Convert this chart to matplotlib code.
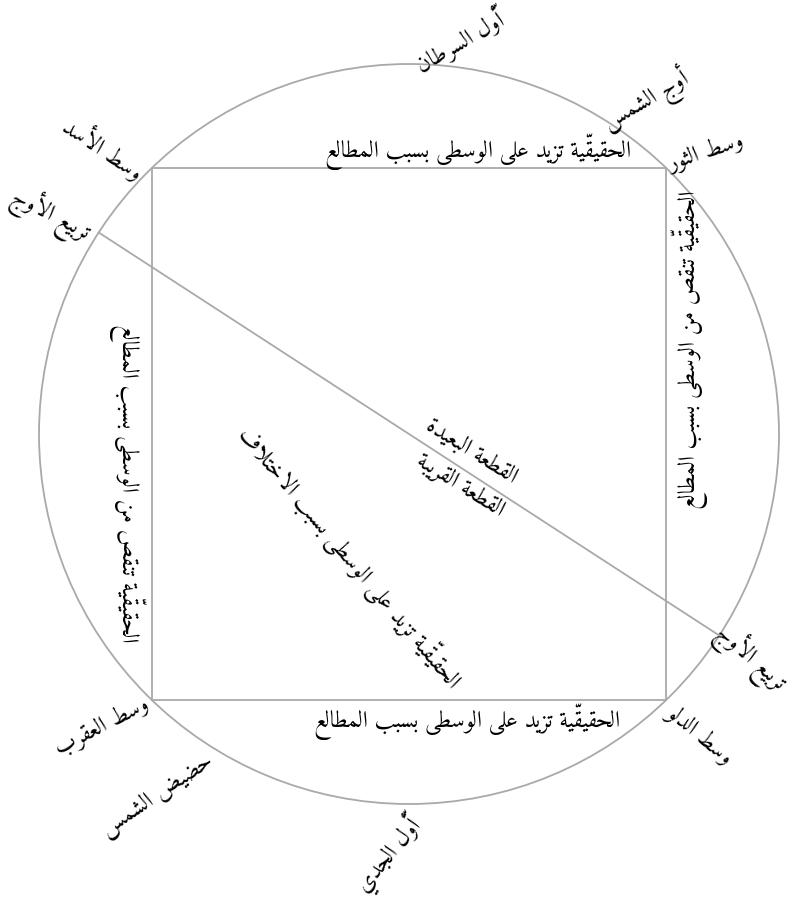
import numpy as np
import matplotlib
matplotlib.use("Agg")
import matplotlib.pyplot as plt
from matplotlib.patches import Circle, Polygon
from matplotlib import font_manager

# ---------------- data ----------------
corner_angles = [46, 134, 226, 314]          # rectangle corners on the circle (deg)
diameter_angles = [147, -33]                 # the diameter line (deg)

label_texts = [
    "أوّل السرطان",
    "أوج الشمس",
    "وسط الثور",
    "وسط الأسد",
    "تربيع الأوج",
    "تربيع الأوج",
    "وسط الدلو",
    "وسط العقرب",
    "حضيض الشمس",
    "أوّل الجدي",
    "الحقيقيّة تزيد على الوسطى بسبب المطالع",
    "الحقيقيّة تزيد على الوسطى بسبب المطالع",
    "الحقيقيّة تنقص من الوسطى بسبب المطالع",
    "الحقيقيّة تنقص من الوسطى بسبب المطالع",
    "القطعة البعيدة",
    "القطعة القريبة",
    "الحقيقيّة تزيد على الوسطى بسبب الاختلاف",
]

# layout (in circle-radius units relative to centre) and rotations
label_x = [0.138, 0.640, 0.805, -0.824, -0.970, 0.922, 0.786, -0.830, -0.678, -0.054,
           0.186, 0.157, 0.759, -0.762, 0.170, 0.138, -0.159]
label_y = [1.062, 0.900, 0.759, 0.773, 0.592, -0.605, -0.814, -0.792, -0.978, -1.138,
           0.762, -0.778, 0.227, -0.132, -0.046, -0.138, -0.332]
label_rot = [30, 30, 18, -34, -27, -41, -40, 27, 34, 50,
             0, 0, 90, 270, -32, -32, -50]

# ---------------- Arabic shaping (presentation forms, visual order) ----------------
_FORMS = {}
for ch, start in [(0x0622, 0xFE81), (0x0623, 0xFE83), (0x0624, 0xFE85), (0x0625, 0xFE87),
                  (0x0627, 0xFE8D), (0x0629, 0xFE93), (0x062F, 0xFEA9), (0x0630, 0xFEAB),
                  (0x0631, 0xFEAD), (0x0632, 0xFEAF), (0x0648, 0xFEED), (0x0649, 0xFEEF)]:
    _FORMS[chr(ch)] = tuple(chr(start + i) for i in range(2))
for ch, start in [(0x0626, 0xFE89), (0x0628, 0xFE8F), (0x062A, 0xFE95), (0x062B, 0xFE99),
                  (0x062C, 0xFE9D), (0x062D, 0xFEA1), (0x062E, 0xFEA5), (0x0633, 0xFEB1),
                  (0x0634, 0xFEB5), (0x0635, 0xFEB9), (0x0636, 0xFEBD), (0x0637, 0xFEC1),
                  (0x0638, 0xFEC5), (0x0639, 0xFEC9), (0x063A, 0xFECD), (0x0641, 0xFED1),
                  (0x0642, 0xFED5), (0x0643, 0xFED9), (0x0644, 0xFEDD), (0x0645, 0xFEE1),
                  (0x0646, 0xFEE5), (0x0647, 0xFEE9), (0x064A, 0xFEF1)]:
    _FORMS[chr(ch)] = tuple(chr(start + i) for i in range(4))
_FORMS[chr(0x0621)] = (chr(0xFE80),)
_LAMALEF = {chr(0x0622): 0xFEF5, chr(0x0623): 0xFEF7, chr(0x0625): 0xFEF9, chr(0x0627): 0xFEFB}


def _is_mark(ch):
    o = ord(ch)
    return 0x064B <= o <= 0x065F or o == 0x0670


def _jtype(b):
    if b.startswith("LA:"):
        return "R"
    f = _FORMS.get(b)
    if f is None or len(f) == 1:
        return "U"
    return "D" if len(f) == 4 else "R"


def shape(text):
    clusters = []
    for ch in text:
        if _is_mark(ch) and clusters:
            clusters[-1][1] += ch
        else:
            clusters.append([ch, ""])
    merged = []
    i = 0
    while i < len(clusters):
        b, m = clusters[i]
        if b == "ل" and i + 1 < len(clusters) and clusters[i + 1][0] in _LAMALEF:
            merged.append(["LA:" + clusters[i + 1][0], m + clusters[i + 1][1]])
            i += 2
        else:
            merged.append([b, m])
            i += 1
    out = []
    n = len(merged)
    for i, (b, m) in enumerate(merged):
        t = _jtype(b)
        pt = _jtype(merged[i - 1][0]) if i > 0 else "U"
        nt = _jtype(merged[i + 1][0]) if i + 1 < n else "U"
        jp = t in "RD" and pt == "D"
        jn = t == "D" and nt in "RD"
        if b.startswith("LA:"):
            g = chr(_LAMALEF[b[3:]] + (1 if jp else 0))
        elif t == "U":
            g = _FORMS[b][0] if b in _FORMS else b
        else:
            f = _FORMS[b]
            g = f[3] if (jp and jn) else f[1] if jp else f[2] if jn else f[0]
        out.append(g + m)
    return "".join(reversed(out))


# pick a font with Arabic glyphs
available = {f.name for f in font_manager.fontManager.ttflist}
family = "DejaVu Sans"
for cand in ["Amiri", "Scheherazade New", "Noto Naskh Arabic", "Noto Sans Arabic", "FreeSerif"]:
    if cand in available:
        family = cand
        break
plt.rcParams["font.family"] = [family, "DejaVu Sans"]

# ---------------- figure ----------------
W, H = 803, 899
cx, cy, R = 409.0, 434.0, 370.0
fig = plt.figure(figsize=(W / 100, H / 100), dpi=100)
ax = fig.add_axes([0, 0, 1, 1])
ax.set_xlim(-cx / R, (W - cx) / R)
ax.set_ylim(-(H - cy) / R, cy / R)
ax.set_aspect("auto")
ax.axis("off")

line_color = "#a9a9a9"
lw = 1.3
ax.add_patch(Circle((0, 0), 1.0, fill=False, edgecolor=line_color, lw=lw))
ca = np.radians(corner_angles)
ax.add_patch(Polygon(np.column_stack([np.cos(ca), np.sin(ca)]), closed=True,
                     fill=False, edgecolor=line_color, lw=lw))
da = np.radians(diameter_angles)
ax.plot(np.cos(da), np.sin(da), color=line_color, lw=lw)

# font size so that the long sentence spans about 305 px
renderer = fig.canvas.get_renderer()
probe = ax.text(0, 0, shape(label_texts[10]), fontsize=10)
pw = probe.get_window_extent(renderer).width
probe.remove()
fs = 10 * 305.0 / pw

for txt, x, y, r in zip(label_texts, label_x, label_y, label_rot):
    ax.text(x, y, shape(txt), fontsize=fs, rotation=r, rotation_mode="anchor",
            ha="center", va="center", color="black")

fig.savefig("out.png", dpi=100)
